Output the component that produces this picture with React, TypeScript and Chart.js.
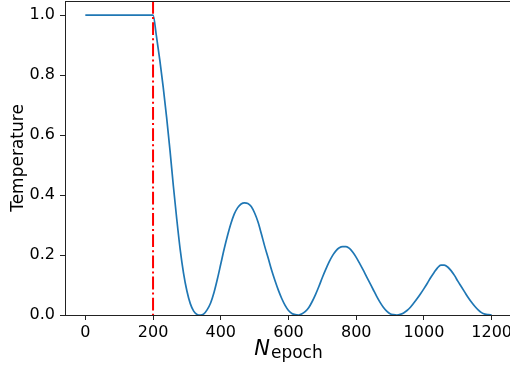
import React, { useEffect, useRef } from "react";
import { Chart, registerables } from "chart.js";

Chart.register(...registerables);

// ---- data ----
const epochs = [
  0, 200, 210, 220, 230, 240, 250, 260, 270, 280, 290,
  300, 310, 320, 330, 340, 350, 360, 370, 380, 390,
  400, 410, 420, 430, 440, 450, 460, 470, 480, 490,
  500, 510, 520, 530, 540, 550, 560, 570, 580, 590,
  600, 610, 620, 630, 640, 650, 660, 670, 680, 690,
  700, 710, 720, 730, 740, 750, 760, 770, 780, 790,
  800, 810, 820, 830, 840, 850, 860, 870, 880, 890,
  900, 910, 920, 930, 940, 950, 960, 970, 980, 990,
  1000, 1010, 1020, 1030, 1040, 1050, 1060, 1070, 1080, 1090,
  1100, 1110, 1120, 1130, 1140, 1150, 1160, 1170, 1180, 1190,
  1200,
];
const temperature = [
  1.0, 1.0, 0.93, 0.85, 0.76, 0.66, 0.55, 0.43, 0.32, 0.22, 0.14,
  0.08, 0.038, 0.013, 0.002, 0.0, 0.004, 0.018, 0.04, 0.075, 0.12,
  0.17, 0.22, 0.265, 0.305, 0.337, 0.358, 0.37, 0.374, 0.372, 0.362,
  0.34, 0.31, 0.27, 0.228, 0.19, 0.15, 0.115, 0.083, 0.055, 0.032,
  0.015, 0.005, 0.001, 0.0, 0.004, 0.012, 0.025, 0.045, 0.069, 0.096,
  0.125, 0.152, 0.177, 0.198, 0.214, 0.224, 0.228, 0.228, 0.222, 0.209,
  0.192, 0.172, 0.151, 0.129, 0.107, 0.085, 0.063, 0.043, 0.026, 0.013,
  0.004, 0.001, 0.0, 0.002, 0.007, 0.015, 0.026, 0.04, 0.055, 0.071,
  0.088, 0.106, 0.125, 0.142, 0.157, 0.166, 0.166, 0.16, 0.148, 0.132,
  0.113, 0.095, 0.077, 0.059, 0.043, 0.029, 0.017, 0.008, 0.003, 0.001,
  0.0,
];
const xTickValues = [0, 200, 400, 600, 800, 1000, 1200];
const yTickValues = [0.0, 0.2, 0.4, 0.6, 0.8, 1.0];
const markerEpoch = 200;
const yAxisTitle = "Temperature";
const xTitleMain = "N";
const xTitleSub = "epoch";

const FONT = "'DejaVu Sans', 'Liberation Sans', sans-serif";
const CANVAS_W = 530;
const CANVAS_H = 375;

export default function App() {
  const ref = useRef<HTMLCanvasElement | null>(null);

  useEffect(() => {
    document.body.style.margin = "0";
    document.body.style.overflow = "hidden";
    document.documentElement.style.overflow = "hidden";
    const canvas = ref.current;
    if (!canvas) return;

    const framePlugin = {
      id: "frame",
      afterDatasetsDraw(chart: any) {
        const { ctx, chartArea, scales } = chart;
        ctx.save();
        // red dash-dot marker line
        const px = scales.x.getPixelForValue(markerEpoch);
        ctx.beginPath();
        ctx.strokeStyle = "#ff0000";
        ctx.lineWidth = 2;
        ctx.setLineDash([12.8, 3.2, 2, 3.2]);
        ctx.moveTo(px, chartArea.top);
        ctx.lineTo(px, chartArea.bottom);
        ctx.stroke();
        ctx.setLineDash([]);
        // top & right spines
        ctx.beginPath();
        ctx.strokeStyle = "#222";
        ctx.lineWidth = 1;
        ctx.moveTo(chartArea.left, chartArea.top + 0.5);
        ctx.lineTo(chartArea.right, chartArea.top + 0.5);
        ctx.moveTo(chartArea.right - 0.5, chartArea.top);
        ctx.lineTo(chartArea.right - 0.5, chartArea.bottom);
        ctx.stroke();
        // x-axis title with subscript
        const cx = (chartArea.left + chartArea.right) / 2;
        ctx.fillStyle = "#000";
        ctx.textBaseline = "alphabetic";
        ctx.font = `italic 21px ${FONT}`;
        const wMain = ctx.measureText(xTitleMain).width;
        ctx.font = `17px ${FONT}`;
        const wSub = ctx.measureText(xTitleSub).width;
        const start = cx - (wMain + 1 + wSub) / 2;
        ctx.font = `italic 21px ${FONT}`;
        ctx.fillText(xTitleMain, start, 355);
        ctx.font = `17px ${FONT}`;
        ctx.fillText(xTitleSub, start + wMain + 1, 358);
        ctx.restore();
      },
    };

    const chart = new Chart(canvas, {
      type: "line",
      data: {
        datasets: [
          {
            data: epochs.map((e, i) => ({ x: e, y: temperature[i] })),
            borderColor: "#1f77b4",
            borderWidth: 1.7,
            pointRadius: 0,
            cubicInterpolationMode: "monotone",
            fill: false,
          },
        ],
      },
      options: {
        responsive: false,
        animation: false,
        layout: { padding: { left: 0, right: CANVAS_W - 512, top: 1, bottom: 0 } },
        plugins: { legend: { display: false }, tooltip: { enabled: false } },
        scales: {
          x: {
            type: "linear",
            min: -60,
            max: 1260,
            afterBuildTicks: (s: any) => {
              s.ticks = xTickValues.map((v) => ({ value: v }));
            },
            afterFit: (s: any) => {
              s.height = CANVAS_H - 315;
              s.paddingLeft = 0;
              s.paddingRight = 0;
            },
            ticks: {
              color: "#000",
              font: { family: FONT, size: 16 },
              padding: 3,
              maxRotation: 0,
              callback: (v: any) => String(v),
            },
            grid: {
              display: true,
              drawOnChartArea: false,
              drawTicks: true,
              tickLength: 5,
              tickColor: "#222",
              tickWidth: 1,
            },
            border: { display: true, color: "#222", width: 1 },
          },
          y: {
            type: "linear",
            min: 0,
            max: 1.047,
            afterBuildTicks: (s: any) => {
              s.ticks = yTickValues.map((v) => ({ value: v }));
            },
            afterFit: (s: any) => {
              s.width = 65;
              s.paddingTop = 0;
              s.paddingBottom = 0;
            },
            ticks: {
              color: "#000",
              font: { family: FONT, size: 16 },
              padding: 5,
              callback: (v: any) => Number(v).toFixed(1),
            },
            grid: {
              display: true,
              drawOnChartArea: false,
              drawTicks: true,
              tickLength: 5,
              tickColor: "#222",
              tickWidth: 1,
            },
            border: { display: true, color: "#222", width: 1 },
            title: {
              display: true,
              text: yAxisTitle,
              color: "#000",
              font: { family: FONT, size: 17 },
              padding: { top: 8, bottom: 0 },
            },
          },
        },
      },
      plugins: [framePlugin],
    } as any);

    return () => chart.destroy();
  }, []);

  return (
    <div style={{ position: "fixed", left: 0, top: 0, width: CANVAS_W, height: CANVAS_H }}>
      <canvas ref={ref} width={CANVAS_W} height={CANVAS_H} />
    </div>
  );
}
